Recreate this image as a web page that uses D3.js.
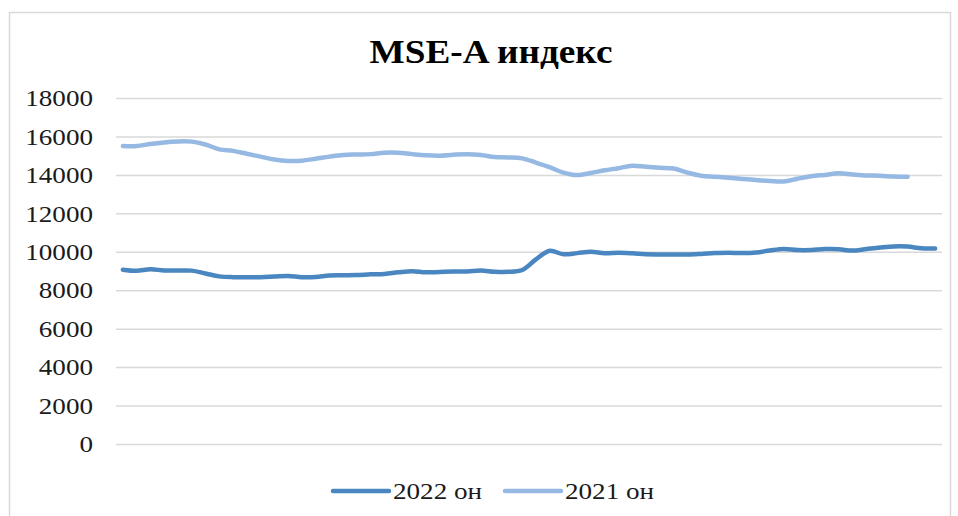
<!DOCTYPE html>
<html>
<head>
<meta charset="utf-8">
<script src="https://cdnjs.cloudflare.com/ajax/libs/d3/7.8.5/d3.min.js"></script>
<style>
  body { margin: 0; background: #fff; }
  svg { display: block; }
</style>
</head>
<body>
<svg></svg>
<script>
// weekly points, no labels on the x axis
let weeks = d3.range(1, 61)

let mse2022 = [9070, 9010, 9090, 9030, 9025, 9020, 8870, 8720, 8680, 8680,
               8680, 8710, 8740, 8680, 8690, 8770, 8780, 8790, 8830, 8850,
               8930, 8990, 8930, 8950, 8970, 8975, 9020, 8960, 8955, 9050,
               9600, 10050, 9870, 9930, 10000, 9920, 9950, 9920, 9870, 9860,
               9860, 9860, 9890, 9930, 9950, 9930, 9960, 10070, 10150, 10090,
               10090, 10140, 10130, 10060, 10140, 10220, 10280, 10270, 10180, 10170]

let mse2021 = [15500, 15500, 15610, 15690, 15740, 15730, 15580, 15330, 15250, 15100,
               14950, 14800, 14720, 14740, 14840, 14950, 15040, 15060, 15080, 15150,
               15150, 15080, 15020, 15000, 15050, 15080, 15040, 14930, 14910, 14860,
               14640, 14400, 14120, 13990, 14100, 14240, 14350, 14480, 14420, 14370,
               14330, 14120, 13960, 13905, 13850, 13790, 13730, 13680, 13655, 13800,
               13930, 14000, 14080, 14020, 13970, 13960, 13910, 13900]

let yTicks = [0, 2000, 4000, 6000, 8000, 10000, 12000, 14000, 16000, 18000]

let seriesNames = ['2022 он', '2021 он']
let seriesColors = ['#4a86bf', '#95b9e2']

let width = 958
let height = 516
let plotLeft = 116
let plotRight = 942
let plotTop = 98
let plotBottom = 444
let stretch = 1.13   // the source picture is a bit wider than tall

let font = '"Liberation Serif", "Times New Roman", serif'

let svg = d3.select('svg')
    .attr('width', width)
    .attr('height', height)

// chart frame
svg.append('rect')
   .attr('x', 9.5)
   .attr('y', 12.5)
   .attr('width', 941)
   .attr('height', 510)
   .attr('fill', 'none')
   .attr('stroke', '#d9d9d9')
   .attr('stroke-width', 1.5)

svg.append('text')
   .attr('transform', 'translate(491, 63) scale(' + stretch + ', 1)')
   .attr('text-anchor', 'middle')
   .style('font-family', font)
   .style('font-weight', 'bold')
   .style('font-size', '33px')
   .text('MSE-A индекс')

let xScale = d3.scaleBand()
    .domain(weeks)
    .range([plotLeft, plotRight])

let yScale = d3.scaleLinear()
    .domain([0, 18000])
    .range([plotBottom, plotTop])

let yAxis = d3.axisLeft(yScale)
    .tickValues(yTicks)
    .tickSize(-(plotRight - plotLeft))
    .tickPadding(23 / stretch)
    .tickFormat(d3.format('d'))

let gy = svg.append('g')
    .attr('transform', 'translate(' + plotLeft + ', 0)')
    .call(yAxis)

gy.select('.domain').remove()
gy.selectAll('.tick line')
  .attr('stroke', '#d9d9d9')
  .attr('stroke-width', 1.5)
gy.selectAll('.tick text')
  .attr('transform', 'scale(' + stretch + ', 1)')
  .style('font-family', font)
  .style('font-size', '24px')
  .attr('fill', '#1a1a1a')

let line = d3.line()
    .x((d, i) => xScale(weeks[i]) + xScale.bandwidth() / 2)
    .y((d) => yScale(d))
    .curve(d3.curveCatmullRom)

let seriesData = [mse2022, mse2021]

svg.selectAll('.series')
   .data(seriesData)
   .enter()
   .append('path')
   .attr('class', 'series')
   .attr('d', (d) => line(d))
   .attr('fill', 'none')
   .attr('stroke', (d, i) => seriesColors[i])
   .attr('stroke-width', 4.5)
   .attr('stroke-linecap', 'round')
   .attr('stroke-linejoin', 'round')

// legend
let legendX = [333, 505]
let legend = svg.selectAll('.legend')
    .data(seriesNames)
    .enter()
    .append('g')
    .attr('class', 'legend')
    .attr('transform', (d, i) => 'translate(' + legendX[i] + ', 491)')

legend.append('line')
      .attr('x1', 0)
      .attr('x2', 56)
      .attr('stroke', (d, i) => seriesColors[i])
      .attr('stroke-width', 4.5)
      .attr('stroke-linecap', 'round')

legend.append('text')
      .attr('transform', 'translate(60, 0) scale(' + stretch + ', 1)')
      .attr('dy', '0.35em')
      .style('font-family', font)
      .style('font-size', '24px')
      .attr('fill', '#1a1a1a')
      .text((d) => d)
</script>
</body>
</html>
